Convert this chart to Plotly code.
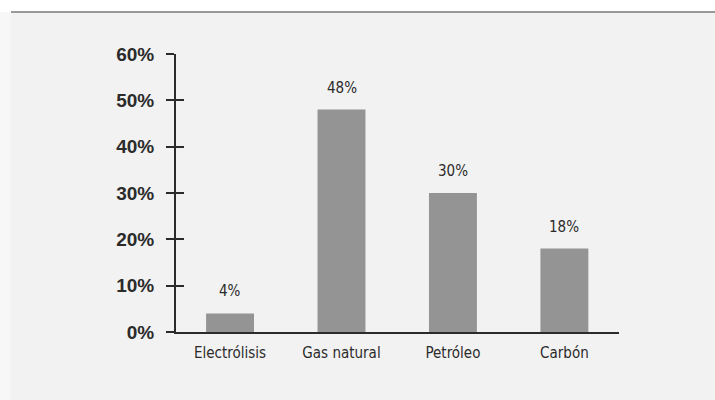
import plotly.graph_objects as go

categories = ["Electrólisis", "Gas natural", "Petróleo", "Carbón"]
shares = [0.04, 0.48, 0.30, 0.18]
tick_vals = [0, 0.1, 0.2, 0.3, 0.4, 0.5, 0.6]
tick_text = ["0%", "10%", "20%", "30%", "40%", "50%", "60%"]

BAR = "#949495"
INK = "#2b2b2b"
NARROW = "DejaVu Sans Condensed, Liberation Sans Narrow, sans-serif"

fig = go.Figure()
fig.add_trace(go.Bar(x=categories, y=shares, marker=dict(color=BAR, line=dict(width=0)),
                     width=0.43, hoverinfo="skip"))
# invisible trace for the inner tick axis
fig.add_trace(go.Scatter(x=categories, y=shares, yaxis="y2", mode="markers",
                         marker=dict(opacity=0), hoverinfo="skip", showlegend=False))

for c, v in zip(categories, shares):
    fig.add_annotation(x=c, y=v, text=f"{round(v*100)}%", showarrow=False,
                       yanchor="middle", yshift=22,
                       font=dict(family=NARROW, size=15, color=INK))

axis_common = dict(range=[0, 0.6], tickvals=tick_vals)
fig.update_layout(
    width=715, height=400,
    margin=dict(l=176, r=96, t=54, b=68),
    paper_bgcolor="#f2f2f2", plot_bgcolor="#f2f2f2",
    showlegend=False,
    xaxis=dict(range=[-0.485, 3.49], showline=True, linecolor=INK, linewidth=2,
               ticks="", showgrid=False, zeroline=False, ticklabelstandoff=6,
               tickfont=dict(family=NARROW, size=15, color=INK)),
    yaxis=dict(**axis_common, ticktext=tick_text, showline=True, linecolor=INK,
               linewidth=2, ticks="outside", ticklen=8, tickwidth=2, tickcolor=INK,
               showgrid=False, zeroline=False, ticklabelstandoff=8,
               tickfont=dict(family="Liberation Sans, Arial, sans-serif", size=19,
                             color=INK, weight="bold")),
    yaxis2=dict(**axis_common, overlaying="y", side="left", showticklabels=False,
                showline=False, ticks="inside", ticklen=8, tickwidth=2, tickcolor=INK,
                showgrid=False, zeroline=False),
)
plot_h = 400 - 54 - 68
plot_w = 715 - 176 - 96
y_line = (400 - 68 - 12) / plot_h
x_left = (11 - 176) / plot_w
fig.add_shape(type="rect", xref="paper", yref="paper", x0=-1, x1=2, y0=y_line, y1=2,
              fillcolor="white", line=dict(width=0), layer="below")
fig.add_shape(type="rect", xref="paper", yref="paper", x0=-1, x1=x_left, y0=-1, y1=y_line,
              fillcolor="#f7f7f7", line=dict(width=0), layer="below")
fig.add_shape(type="line", xref="paper", yref="paper", x0=x_left, x1=2,
              y0=y_line, y1=y_line, line=dict(color="#999999", width=2))
fig.write_html("out.html", config={"displayModeBar": False},
               post_script="document.body.style.margin='0';")
